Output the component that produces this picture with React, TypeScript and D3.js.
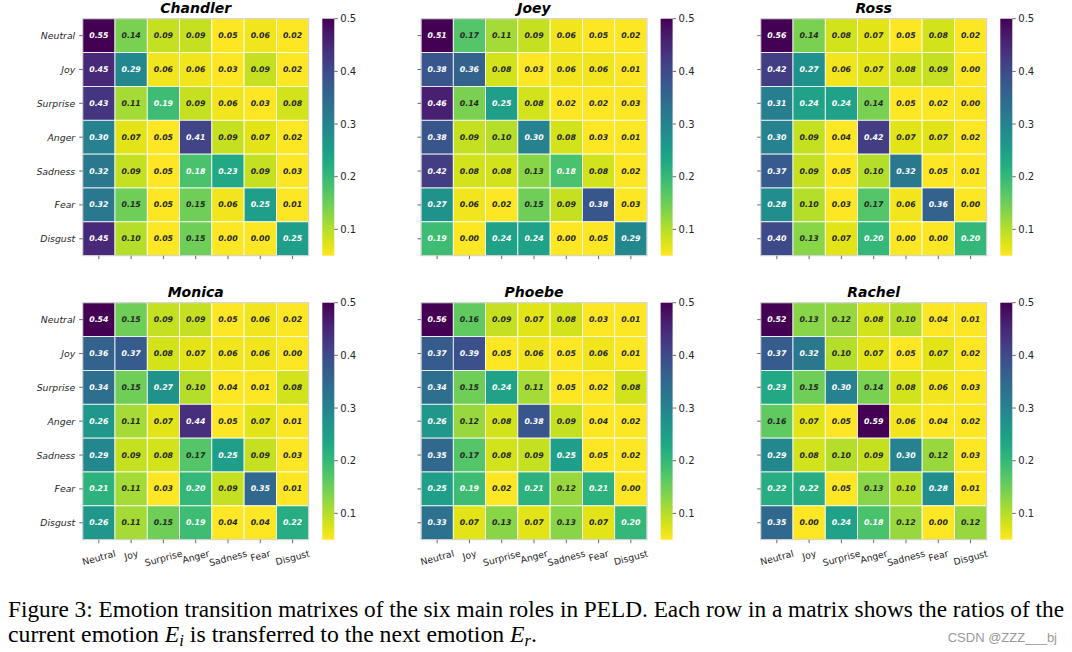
import React, { useEffect, useRef } from "react";
import * as d3 from "d3";

const emotions = ["Neutral", "Joy", "Surprise", "Anger", "Sadness", "Fear", "Disgust"];
const roles = ["Chandler", "Joey", "Ross", "Monica", "Phoebe", "Rachel"];
const colorbarTicks = [0.1, 0.2, 0.3, 0.4, 0.5];

const chandler = [
  [0.55, 0.14, 0.09, 0.09, 0.05, 0.06, 0.02],
  [0.45, 0.29, 0.06, 0.06, 0.03, 0.09, 0.02],
  [0.43, 0.11, 0.19, 0.09, 0.06, 0.03, 0.08],
  [0.30, 0.07, 0.05, 0.41, 0.09, 0.07, 0.02],
  [0.32, 0.09, 0.05, 0.18, 0.23, 0.09, 0.03],
  [0.32, 0.15, 0.05, 0.15, 0.06, 0.25, 0.01],
  [0.45, 0.10, 0.05, 0.15, 0.00, 0.00, 0.25],
];
const joey = [
  [0.51, 0.17, 0.11, 0.09, 0.06, 0.05, 0.02],
  [0.38, 0.36, 0.08, 0.03, 0.06, 0.06, 0.01],
  [0.46, 0.14, 0.25, 0.08, 0.02, 0.02, 0.03],
  [0.38, 0.09, 0.10, 0.30, 0.08, 0.03, 0.01],
  [0.42, 0.08, 0.08, 0.13, 0.18, 0.08, 0.02],
  [0.27, 0.06, 0.02, 0.15, 0.09, 0.38, 0.03],
  [0.19, 0.00, 0.24, 0.24, 0.00, 0.05, 0.29],
];
const ross = [
  [0.56, 0.14, 0.08, 0.07, 0.05, 0.08, 0.02],
  [0.42, 0.27, 0.06, 0.07, 0.08, 0.09, 0.00],
  [0.31, 0.24, 0.24, 0.14, 0.05, 0.02, 0.00],
  [0.30, 0.09, 0.04, 0.42, 0.07, 0.07, 0.02],
  [0.37, 0.09, 0.05, 0.10, 0.32, 0.05, 0.01],
  [0.28, 0.10, 0.03, 0.17, 0.06, 0.36, 0.00],
  [0.40, 0.13, 0.07, 0.20, 0.00, 0.00, 0.20],
];
const monica = [
  [0.54, 0.15, 0.09, 0.09, 0.05, 0.06, 0.02],
  [0.36, 0.37, 0.08, 0.07, 0.06, 0.06, 0.00],
  [0.34, 0.15, 0.27, 0.10, 0.04, 0.01, 0.08],
  [0.26, 0.11, 0.07, 0.44, 0.05, 0.07, 0.01],
  [0.29, 0.09, 0.08, 0.17, 0.25, 0.09, 0.03],
  [0.21, 0.11, 0.03, 0.20, 0.09, 0.35, 0.01],
  [0.26, 0.11, 0.15, 0.19, 0.04, 0.04, 0.22],
];
const phoebe = [
  [0.56, 0.16, 0.09, 0.07, 0.08, 0.03, 0.01],
  [0.37, 0.39, 0.05, 0.06, 0.05, 0.06, 0.01],
  [0.34, 0.15, 0.24, 0.11, 0.05, 0.02, 0.08],
  [0.26, 0.12, 0.08, 0.38, 0.09, 0.04, 0.02],
  [0.35, 0.17, 0.08, 0.09, 0.25, 0.05, 0.02],
  [0.25, 0.19, 0.02, 0.21, 0.12, 0.21, 0.00],
  [0.33, 0.07, 0.13, 0.07, 0.13, 0.07, 0.20],
];
const rachel = [
  [0.52, 0.13, 0.12, 0.08, 0.10, 0.04, 0.01],
  [0.37, 0.32, 0.10, 0.07, 0.05, 0.07, 0.02],
  [0.23, 0.15, 0.30, 0.14, 0.08, 0.06, 0.03],
  [0.16, 0.07, 0.05, 0.59, 0.06, 0.04, 0.02],
  [0.29, 0.08, 0.10, 0.09, 0.30, 0.12, 0.03],
  [0.22, 0.22, 0.05, 0.13, 0.10, 0.28, 0.01],
  [0.35, 0.00, 0.24, 0.18, 0.12, 0.00, 0.12],
];
const matrices = [chandler, joey, ross, monica, phoebe, rachel];

const captionLine1 =
  "Figure 3: Emotion transition matrixes of the six main roles in PELD. Each row in a matrix shows the ratios of the";
const watermark = "CSDN @ZZZ___bj";

const VMIN = 0.05;
const VMAX = 0.5;

function luminance(c: string) {
  const rgb = d3.rgb(c);
  const f = (v: number) => {
    const s = v / 255;
    return s <= 0.03928 ? s / 12.92 : Math.pow((s + 0.055) / 1.055, 2.4);
  };
  return 0.2126 * f(rgb.r) + 0.7152 * f(rgb.g) + 0.0722 * f(rgb.b);
}

export default function App() {
  const ref = useRef<SVGSVGElement | null>(null);

  useEffect(() => {
    const svg = d3.select(ref.current);
    svg.selectAll("*").remove();

    const font = "DejaVu Sans, sans-serif";
    const dark = "#262626";
    const panelLefts = [82.7, 421, 760.7];
    const panelTops = [18.7, 302.7];
    const W = 226;
    const H = 237;
    const norm = d3.scaleLinear().domain([VMIN, VMAX]).range([0, 1]).clamp(true);
    const color = (v: number) => d3.interpolateViridis(1 - norm(v));
    const lumThreshold = luminance(color(0.178));

    matrices.forEach((mat, k) => {
      const col = k % 3;
      const row = Math.floor(k / 3);
      const x0 = panelLefts[col];
      const y0 = panelTops[row];
      const g = svg.append("g").attr("transform", `translate(${x0},${y0})`);
      const xs = d3.scaleBand().domain(emotions).range([0, W]);
      const ys = d3.scaleBand().domain(emotions).range([0, H]);

      mat.forEach((r, i) => {
        r.forEach((v, j) => {
          const c = color(v);
          g.append("rect")
            .attr("x", xs(emotions[j])!)
            .attr("y", ys(emotions[i])!)
            .attr("width", xs.bandwidth())
            .attr("height", ys.bandwidth())
            .attr("fill", c)
            .attr("stroke", "#ffffff")
            .attr("stroke-width", 0.8);
          g.append("text")
            .attr("x", xs(emotions[j])! + xs.bandwidth() / 2)
            .attr("y", ys(emotions[i])! + ys.bandwidth() / 2)
            .attr("text-anchor", "middle")
            .attr("dominant-baseline", "central")
            .attr("font-family", font)
            .attr("font-size", 7.8)
            .attr("font-weight", "bold")
            .attr("font-style", "italic")
            .attr("fill", luminance(c) > lumThreshold ? dark : "#ffffff")
            .text(v.toFixed(2));
        });
      });
      // frame
      g.append("rect")
        .attr("x", 0).attr("y", 0).attr("width", W).attr("height", H)
        .attr("fill", "none").attr("stroke", "#cccccc").attr("stroke-width", 1);

      // title
      g.append("text")
        .attr("x", W / 2)
        .attr("y", -5.5)
        .attr("text-anchor", "middle")
        .attr("font-family", font)
        .attr("font-size", 14)
        .attr("font-weight", "bold")
        .attr("font-style", "italic")
        .attr("fill", "#000")
        .text(roles[k]);

      // y ticks
      emotions.forEach((e) => {
        const cy = ys(e)! + ys.bandwidth() / 2;
        g.append("line")
          .attr("x1", -3.5).attr("x2", 0).attr("y1", cy).attr("y2", cy)
          .attr("stroke", "#444").attr("stroke-width", 0.8);
        if (col === 0) {
          g.append("text")
            .attr("x", -7.5)
            .attr("y", cy)
            .attr("text-anchor", "end")
            .attr("dominant-baseline", "central")
            .attr("font-family", font)
            .attr("font-size", 9.3)
            .attr("font-style", "italic")
            .attr("fill", dark)
            .text(e);
        }
      });
      // x ticks
      emotions.forEach((e) => {
        const cx = xs(e)! + xs.bandwidth() / 2;
        g.append("line")
          .attr("x1", cx).attr("x2", cx).attr("y1", H).attr("y2", H + 3.5)
          .attr("stroke", "#444").attr("stroke-width", 0.8);
        if (row === 1) {
          const t = g.append("text")
            .attr("text-anchor", "middle")
            .attr("dominant-baseline", "central")
            .attr("font-family", font)
            .attr("font-size", 9.3)
            .attr("fill", dark)
            .text(e);
          const w = (t.node() as SVGTextElement).getComputedTextLength();
          const a = (15 * Math.PI) / 180;
          const hgt = 10.8;
          const bh = w * Math.sin(a) + hgt * Math.cos(a);
          t.attr("transform", `translate(${cx},${H + 8 + bh / 2}) rotate(-15)`);
        }
      });

      // colorbar
      const cbX = 239.6;
      const cbW = 12;
      const cbScale = d3.scaleLinear().domain([VMIN, VMAX]).range([H, 0]);
      const gradId = `grad${k}`;
      const grad = svg.append("defs").append("linearGradient")
        .attr("id", gradId).attr("x1", 0).attr("x2", 0).attr("y1", 1).attr("y2", 0);
      d3.range(0, 1.0001, 0.05).forEach((t) => {
        grad.append("stop").attr("offset", t).attr("stop-color", d3.interpolateViridis(1 - t));
      });
      g.append("rect")
        .attr("x", cbX).attr("y", 0).attr("width", cbW).attr("height", H)
        .attr("fill", `url(#${gradId})`);
      colorbarTicks.forEach((tv) => {
        const ty = cbScale(tv);
        g.append("line")
          .attr("x1", cbX + cbW).attr("x2", cbX + cbW + 3.5).attr("y1", ty).attr("y2", ty)
          .attr("stroke", "#444").attr("stroke-width", 0.8);
        g.append("text")
          .attr("x", cbX + cbW + 6)
          .attr("y", ty)
          .attr("dominant-baseline", "central")
          .attr("font-family", font)
          .attr("font-size", 10)
          .attr("fill", dark)
          .text(tv.toFixed(1));
      });
    });

    // caption
    const serif = "Liberation Serif, Times New Roman, serif";
    const fs = 23;
    svg.append("text")
      .attr("x", 8).attr("y", 616.5)
      .attr("font-family", serif).attr("font-size", fs).attr("fill", "#000")
      .attr("textLength", 1056).attr("lengthAdjust", "spacingAndGlyphs")
      .text(captionLine1);

    const l2 = svg.append("text").attr("x", 8).attr("y", 641.5)
      .attr("font-family", serif).attr("font-size", fs).attr("fill", "#000")
      .attr("textLength", 529).attr("lengthAdjust", "spacingAndGlyphs");
    l2.append("tspan").text("current emotion ");
    l2.append("tspan").attr("font-style", "italic").text("E");
    l2.append("tspan").attr("font-style", "italic").attr("font-size", fs * 0.7).attr("dy", 4).text("i");
    l2.append("tspan").attr("dy", -4).text(" is transferred to the next emotion ");
    l2.append("tspan").attr("font-style", "italic").text("E");
    l2.append("tspan").attr("font-style", "italic").attr("font-size", fs * 0.7).attr("dy", 4).text("r");
    l2.append("tspan").attr("dy", -4).text(".");

    svg.append("text")
      .attr("x", 1057).attr("y", 641.5)
      .attr("text-anchor", "end")
      .attr("font-family", "Liberation Sans, Arial, sans-serif")
      .attr("font-size", 13)
      .attr("fill", "#9a9a9a")
      .text(watermark);
  }, []);

  return (
    <svg
      ref={ref}
      width={1072}
      height={652}
      style={{ position: "absolute", left: 0, top: 0, background: "#ffffff" }}
    />
  );
}
